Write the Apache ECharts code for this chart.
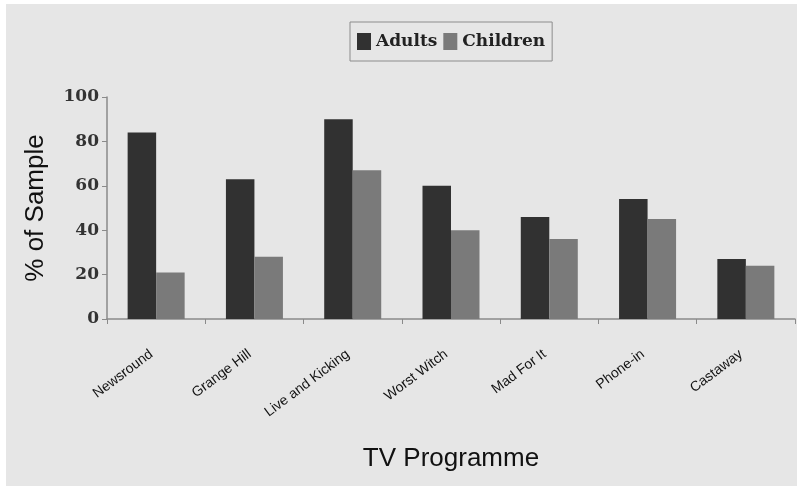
<!DOCTYPE html>
<html>
<head>
<meta charset="utf-8">
<script src="https://cdn.jsdelivr.net/npm/echarts@6/dist/echarts.min.js"></script>
<style>
  html, body { margin: 0; padding: 0; background: #ffffff; }
  #chart { position: absolute; left: 6px; top: 4px; width: 791px; height: 482px; background: #e6e6e6; }
</style>
</head>
<body>
<div id="chart"></div>
<script>
var programmes = ['Newsround', 'Grange Hill', 'Live and Kicking', 'Worst Witch', 'Mad For It', 'Phone-in', 'Castaway'];
var adults = [84, 63, 90, 60, 46, 54, 27];
var children = [21, 28, 67, 40, 36, 45, 24];

var myChart = echarts.init(document.getElementById('chart'));
var option = {
	animation: false,
	legend: {
		top: 18,
		left: 344,
		data: ['Adults', 'Children'],
		icon: 'rect',
		itemWidth: 14,
		itemHeight: 17,
		itemGap: 6,
		padding: [11, 7],
		borderColor: '#8c8c8c',
		borderWidth: 1,
		textStyle: {
			fontFamily: 'DejaVu Serif',
			fontWeight: 'bold',
			fontSize: 17,
			color: '#222'
		}
	},
	grid: {
		left: 101,
		top: 93,
		right: 2,
		bottom: 167
	},
	xAxis: {
		type: 'category',
		data: programmes,
		name: 'TV Programme',
		nameLocation: 'middle',
		nameGap: 127,
		nameTextStyle: {
			fontFamily: 'Liberation Sans',
			fontSize: 26,
			color: '#111'
		},
		axisLine: { lineStyle: { color: '#8a8a8a', width: 1.5 } },
		axisTick: { show: true, length: 5, lineStyle: { color: '#8a8a8a' } },
		axisLabel: {
			interval: 0,
			rotate: 37,
			margin: 30,
			padding: [0, 6, 0, 0],
			fontFamily: 'Liberation Sans',
			fontSize: 14,
			color: '#111'
		}
	},
	yAxis: {
		type: 'value',
		min: 0,
		max: 100,
		interval: 20,
		name: '% of Sample',
		nameLocation: 'middle',
		nameGap: 58,
		nameTextStyle: {
			fontFamily: 'Liberation Sans',
			fontSize: 26,
			color: '#111'
		},
		splitLine: { show: false },
		axisLine: { show: true, lineStyle: { color: '#8a8a8a', width: 1.5 } },
		axisTick: { show: true, length: 5, lineStyle: { color: '#8a8a8a' } },
		axisLabel: {
			margin: 8,
			fontFamily: 'DejaVu Serif',
			fontWeight: 'bold',
			fontSize: 17,
			color: '#333'
		}
	},
	series: [{
		name: 'Adults',
		type: 'bar',
		data: adults,
		barGap: '0%',
		barCategoryGap: '42%',
		itemStyle: { color: '#313131' }
	}, {
		name: 'Children',
		type: 'bar',
		data: children,
		barGap: '0%',
		barCategoryGap: '42%',
		itemStyle: { color: '#7a7a7a' }
	}]
};
myChart.setOption(option);
</script>
</body>
</html>
